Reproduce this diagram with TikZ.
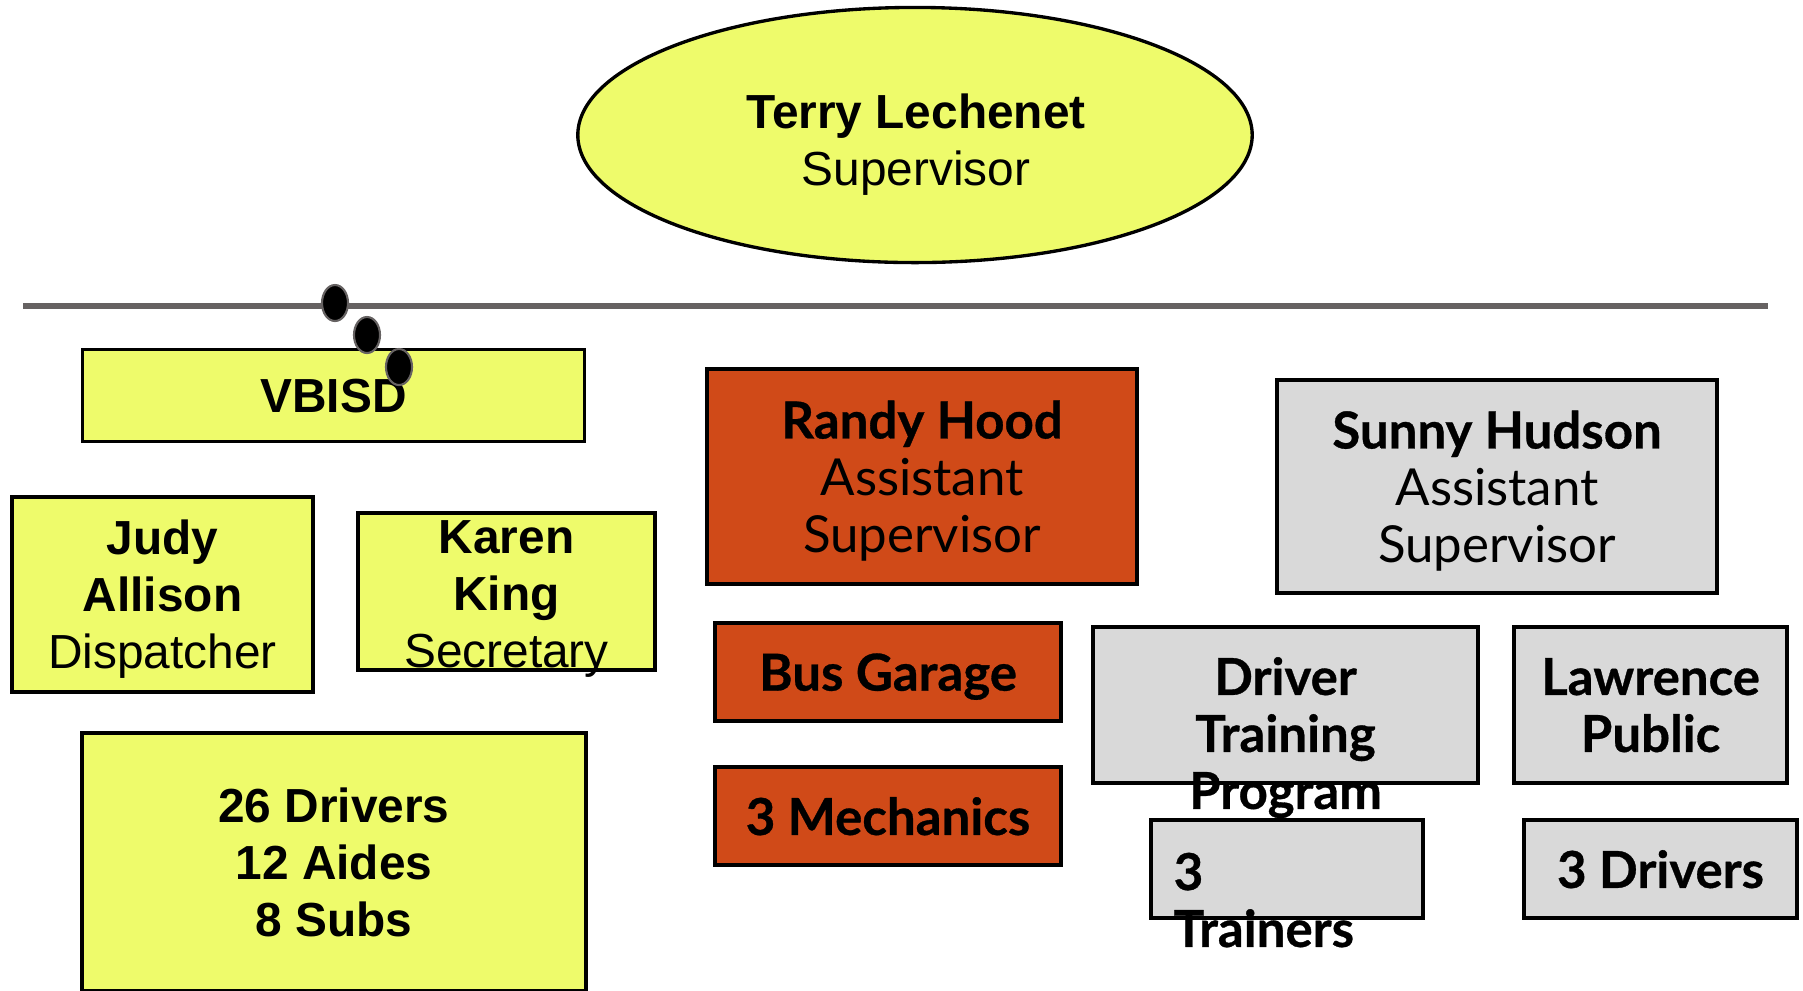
\documentclass[tikz,border=0pt]{standalone}
\usepackage{fontspec}
\setmainfont{Liberation Sans}
\newfontfamily\franklin{Lato}[BoldFeatures={FakeBold=0.6}]
\usetikzlibrary{shapes.geometric}
\definecolor{lemon}{RGB}{238,251,107}
\definecolor{rust}{RGB}{208,74,24}
\definecolor{silver}{RGB}{217,217,217}
\definecolor{rail}{RGB}{102,98,98}

\begin{document}
\begin{tikzpicture}[x=0.01cm, y=-0.01cm,
   box/.style = {draw=black, line width=0.95pt, inner sep=0pt, align=center, text depth=0pt},
   arialtext/.style = {font=\fontsize{13.6}{16.2}\selectfont},
   lato/.style = {font=\franklin\fontsize{14.5}{16.2}\selectfont},
   yellowbox/.style = {box, fill=lemon, arialtext},
   orangebox/.style = {box, fill=rust, lato},
   greybox/.style = {box, fill=silver, lato},
   spill/.style = {lato, inner sep=0pt},
   dot/.style = {ellipse, fill=black, draw=rail, line width=0.6pt, minimum width=0.26cm, minimum height=0.36cm, inner sep=0pt}]
\useasboundingbox (0,0) rectangle (1803,990);

\node[ellipse, box, fill=lemon, arialtext, minimum width=6.74cm, minimum height=2.55cm] (boss) at (915,135) {};
\node[arialtext, align=center, inner sep=0pt, text depth=0pt] (bosstext) at (916,140) {\textbf{Terry Lechenet}\\Supervisor};

% left column
\node[yellowbox, minimum width=5.02cm, minimum height=0.92cm] (vbisd) at (333.5,395.5) {\textbf{VBISD}};
\node[yellowbox, minimum width=3.01cm, minimum height=1.95cm] (judy) at (162.5,594.5) {\textbf{Judy}\\\textbf{Allison}\\Dispatcher};
\node[yellowbox, minimum width=2.97cm, minimum height=1.57cm] (karen) at (506.5,591.5) {};
\node[arialtext, align=center, inner sep=0pt, text depth=0pt] (karentext) at (506.5,594) {\textbf{Karen}\\\textbf{King}\\Secretary};
\node[yellowbox, minimum width=5.04cm, minimum height=2.58cm] (crew) at (334,862) {\textbf{26 Drivers}\\\textbf{12 Aides}\\\textbf{8 Subs}};

% middle column
\node[orangebox, minimum width=4.30cm, minimum height=2.15cm] (randy) at (922,476.5) {\textbf{Randy Hood}\\Assistant\\Supervisor};
\node[orangebox, minimum width=3.46cm, minimum height=0.98cm] (garage) at (888,672) {\textbf{Bus Garage}};
\node[orangebox, minimum width=3.46cm, minimum height=0.98cm] (mechanics) at (888,816) {\textbf{3 Mechanics}};

% right column
\node[greybox, minimum width=4.40cm, minimum height=2.13cm] (sunny) at (1497,486.5) {\textbf{Sunny Hudson}\\Assistant\\Supervisor};
\node[greybox, minimum width=3.85cm, minimum height=1.56cm] (training) at (1285.5,705) {};
\node[spill, align=center, text depth=0pt] (trainingtext) at (1285.5,733) {\textbf{Driver}\\\textbf{Training}\\\textbf{Program}};
\node[greybox, minimum width=2.73cm, minimum height=1.56cm] (lawrence) at (1650.5,705) {\textbf{Lawrence}\\\textbf{Public}};
\node[greybox, minimum width=2.72cm, minimum height=0.98cm] (trainers) at (1287,869) {};
\node[spill, align=left, anchor=north west] (trainerstext) at (1173,852) {\textbf{3}\\\textbf{Trainers}};
\node[greybox, minimum width=2.73cm, minimum height=0.98cm] (drivers) at (1660.5,869) {\textbf{3 Drivers}};

\draw[rail, line width=0.06cm] (23,306) -- (1768,306);
\foreach \i in {0,1,2}
   \node[dot] (dot\i) at (335+32*\i, 303+32*\i) {};

\end{tikzpicture}
\end{document}
